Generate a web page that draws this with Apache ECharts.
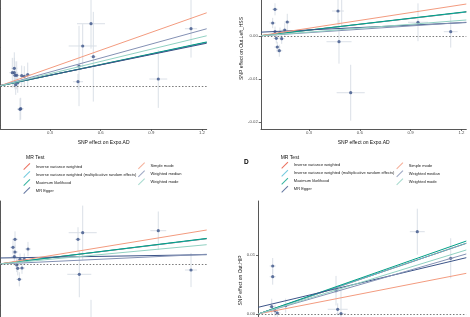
<!DOCTYPE html>
<html>
<head>
<meta charset="utf-8">
<script src="https://cdn.jsdelivr.net/npm/echarts@6/dist/echarts.min.js"></script>
<style>html,body{margin:0;padding:0;background:#fff}#c{width:470px;height:317px}</style>
</head>
<body>
<div id="c"></div>
<script>
// ---- method names (legend order) ----
const methods = ['Inverse variance weighted', 'Inverse variance weighted (multiplicative random effects)', 'Maximum likelihood', 'MR Egger', 'Simple mode', 'Weighted median', 'Weighted mode'];

// ---- Panel A (Out: top-left) ----
const aX   = [0.0886, 0.0768, 0.0886, 0.0928, 0.1028, 0.0969, 0.1088, 0.1324, 0.1478, 0.1680, 0.1224, 0.1265, 0.4936, 0.4717, 0.4658, 0.5428, 0.5564, 0.9412, 1.1349];
const aY   = [0.00454, 0.00341, 0.00341, 0.00274, 0.00274, 0.00033, 0.00085, 0.00264, 0.00249, 0.00290, -0.00597, -0.00582, 0.01026, 0.00513, 0.00110, 0.01597, 0.00751, 0.00179, 0.01469];
const aXe  = [0.018, 0.018, 0.018, 0.018, 0.018, 0.018, 0.018, 0.018, 0.018, 0.018, 0.018, 0.018, 0.083, 0.018, 0.030, 0.083, 0.018, 0.053, 0.036];
const aYe  = [0.0041, 0.0038, 0.0038, 0.0036, 0.0036, 0.0026, 0.0026, 0.0026, 0.0026, 0.0031, 0.0028, 0.0028, 0.0056, 0.0103, 0.0020, 0.0064, 0.0115, 0.0074, 0.0074];
const aSlope = [0.0091, 0.0091, 0.0092, 0.00885, 0.01529, 0.01195, 0.01049];
const aIntercept = [0, 0, 0, 0.0001, 0, 0, 0];

// ---- Panel B (Out.Left_HSS) ----
const bX   = [0.0992, 0.0856, 0.0992, 0.1287, 0.1069, 0.1387, 0.1128, 0.1246, 0.1565, 0.1718, 0.4713, 0.4772, 0.5463, 0.9438, 1.1370, 0.4930];
const bY   = [0.00621, 0.00302, 0.00100, 0.00077, -0.00053, -0.00063, -0.00256, -0.00342, 0.00140, 0.00326, 0.00581, -0.00133, -0.01319, 0.00319, 0.00100, 0.01020];
const bXe  = [0.018, 0.018, 0.018, 0.018, 0.018, 0.018, 0.018, 0.018, 0.018, 0.018, 0.035, 0.074, 0.083, 0.059, 0.041, 0.018];
const bYe  = [0.0014, 0.0012, 0.0012, 0.0012, 0.0012, 0.0012, 0.0012, 0.0014, 0.0016, 0.0019, 0.0033, 0.0051, 0.0065, 0.0044, 0.0037, 0.0081];
const bSlope = [0.00454, 0.00454, 0.0046, 0.00185, 0.00605, 0.0026, 0.00303];
const bIntercept = [0, 0, 0, 0.00086, 0, 0, 0];

// ---- Panel C (bottom-left) ----
const cX   = [0.0928, 0.0809, 0.0928, 0.0886, 0.1224, 0.1478, 0.1697, 0.1028, 0.1088, 0.1342, 0.1182, 0.4658, 0.4936, 0.4735, 0.9412, 1.1349, 0.5428];
const cY   = [0.00592, 0.00400, 0.00288, 0.00175, 0.00113, 0.00113, 0.00360, -0.00024, -0.00103, -0.00096, -0.00367, 0.00592, 0.00751, -0.00247, 0.00799, -0.00144, -0.0182];
const cXe  = [0.018, 0.018, 0.018, 0.018, 0.018, 0.018, 0.018, 0.018, 0.018, 0.018, 0.018, 0.018, 0.083, 0.071, 0.047, 0.036, 0.030];
const cYe  = [0.0019, 0.0017, 0.0017, 0.0017, 0.0014, 0.0014, 0.0017, 0.0017, 0.0017, 0.0014, 0.0017, 0.0029, 0.0065, 0.0055, 0.0046, 0.0041, 0.0096];
const cSlope = [0.00494, 0.00494, 0.0050, 0.00065, 0.00664, 0.0019, 0.00377];
const cIntercept = [0, 0, 0, 0.00144, 0, 0, 0];

// ---- Panel D (Out.HIP) ----
const dX   = [0.0856, 0.0856, 0.0797, 0.0992, 0.1128, 0.1624, 0.4595, 0.4695, 0.4890, 0.9397, 1.1370];
const dY   = [0.00814, 0.00632, 0.00124, 0.00056, 0.00017, 0.00141, 0.00395, 0.00080, 0.00005, 0.01395, 0.00944];
const dXe  = [0.018, 0.018, 0.018, 0.018, 0.018, 0.018, 0.030, 0.059, 0.030, 0.044, 0.018];
const dYe  = [0.00135, 0.00135, 0.00135, 0.0010, 0.0010, 0.0012, 0.0025, 0.0010, 0.0042, 0.0039, 0.0034];
const dSlope = [0.00975, 0.00975, 0.01006, 0.00684, 0.00561, 0.00828, 0.00883];
const dIntercept = [0, 0, 0, 0.00114, 0, 0, 0];

// ---- tick values ----
const xTicks = [0.3, 0.6, 0.9, 1.2];
const aYTicks = [-0.01, 0, 0.01, 0.02];
const bYTicks = [-0.02, -0.01, 0, 0.01];
const cYTicks = [-0.01, 0, 0.01];
const dYTicks = [0, 0.01];

// ---- styling ----
const methodColors = ['#E64B35', '#4DBBD5', '#00A087', '#3C5488', '#F39B7F', '#8491B4', '#91D1C2'];
const FONT = '"Liberation Sans", Arial, Helvetica, sans-serif';

const panels = [
  { x: aX, y: aY, xe: aXe, ye: aYe, slope: aSlope, icpt: aIntercept, yTicks: aYTicks,
    grid: { left: 0.5, top: -32, width: 206.2, height: 161 }, xr: [0.0069, 1.2278], yr: [-0.011026, 0.030256],
    xName: 'SNP effect on Expo.AD', yName: '' },
  { x: bX, y: bY, xe: bXe, ye: bYe, slope: bSlope, icpt: bIntercept, yTicks: bYTicks,
    grid: { left: 261, top: -32, width: 205.3, height: 161 }, xr: [0.01648, 1.22912], yr: [-0.021628, 0.015814],
    xName: 'SNP effect on Expo.AD', yName: 'SNP effect on Out.Left_HSS' },
  { x: cX, y: cY, xe: cXe, ye: cYe, slope: cSlope, icpt: cIntercept, yTicks: cYTicks,
    grid: { left: 0.5, top: 201, width: 206.2, height: 159 }, xr: [0.0069, 1.2278], yr: [-0.023022, 0.015108],
    xName: '', yName: '' },
  { x: dX, y: dY, xe: dXe, ye: dYe, slope: dSlope, icpt: dIntercept, yTicks: dYTicks,
    grid: { left: 258.3, top: 201, width: 208, height: 159 }, xr: [0.00053, 1.22912], yr: [-0.0077966, 0.019153],
    xName: '', yName: 'SNP effect on Out.HIP' }
];

const grids = [], xAxes = [], yAxes = [], series = [];
panels.forEach((p, i) => {
  grids.push(Object.assign({ containLabel: false, outerBoundsMode: 'none' }, p.grid));
  xAxes.push({
    type: 'value', gridIndex: i, min: p.xr[0], max: p.xr[1],
    splitLine: { show: false },
    axisLine: { show: true, onZero: false, lineStyle: { color: '#444', width: 0.9 } },
    axisTick: { show: true, length: 2, lineStyle: { color: '#444', width: 0.8 }, customValues: xTicks },
    axisLabel: { show: true, fontSize: 4.3, color: '#4D4D4D', margin: 2.2, fontFamily: FONT,
      customValues: xTicks, formatter: v => Number(v).toFixed(1) },
    name: p.xName, nameLocation: 'middle', nameGap: 6.8,
    nameTextStyle: { fontSize: 5, color: '#111', fontFamily: FONT }
  });
  yAxes.push({
    type: 'value', gridIndex: i, min: p.yr[0], max: p.yr[1],
    splitLine: { show: false },
    axisLine: { show: true, onZero: false, lineStyle: { color: '#444', width: 0.9 } },
    axisTick: { show: true, length: 2.3, lineStyle: { color: '#444', width: 0.8 }, customValues: p.yTicks },
    axisLabel: { show: true, fontSize: 4.3, color: '#4D4D4D', margin: 3.2, fontFamily: FONT,
      customValues: p.yTicks, formatter: v => { const s = Number(v).toFixed(2); return s === '-0.00' ? '0.00' : s; } },
    name: p.yName, nameLocation: 'middle', nameGap: 14.2,
    nameTextStyle: { fontSize: 5, color: '#111', fontFamily: FONT }
  });

  const pts = p.x.map((xv, k) => [xv, p.y[k], p.xe[k], p.ye[k]]);
  series.push({
    type: 'custom', name: 'err' + i, xAxisIndex: i, yAxisIndex: i, clip: true, z: 1, silent: true,
    data: pts,
    renderItem: (params, api) => {
      const x = api.value(0), y = api.value(1), xe = api.value(2), ye = api.value(3);
      const h1 = api.coord([x - xe, y]), h2 = api.coord([x + xe, y]);
      const v1 = api.coord([x, y - ye]), v2 = api.coord([x, y + ye]);
      const st = { stroke: '#D6DCE4', lineWidth: 0.9 };
      return { type: 'group', children: [
        { type: 'line', shape: { x1: h1[0], y1: h1[1], x2: h2[0], y2: h2[1] }, style: st },
        { type: 'line', shape: { x1: v1[0], y1: v1[1], x2: v2[0], y2: v2[1] }, style: st }
      ] };
    },
    markLine: {
      silent: true, symbol: ['none', 'none'], label: { show: false },
      lineStyle: { type: [1.5, 1.8], color: '#555', width: 0.8 },
      data: [{ yAxis: 0 }]
    }
  });
  series.push({
    type: 'scatter', name: 'pts' + i, xAxisIndex: i, yAxisIndex: i, z: 2, silent: true,
    symbol: 'circle', symbolSize: 3.2,
    itemStyle: { color: '#3C5488' },
    data: p.x.map((xv, k) => [xv, p.y[k]])
  });
  methods.forEach((m, j) => {
    const a = p.icpt[j], b = p.slope[j];
    series.push({
      type: 'line', name: m, xAxisIndex: i, yAxisIndex: i, z: 3, silent: true,
      showSymbol: false, symbol: 'none', clip: true,
      lineStyle: { color: methodColors[j], width: 1 },
      itemStyle: { color: methodColors[j] },
      data: [[p.xr[0], a + b * p.xr[0]], [p.xr[1], a + b * p.xr[1]]]
    });
  });
});

const ICON = 'path://M0,9 L9,0 L10,1 L1,10 Z';
function mkLegend(names, left, top) {
  return {
    data: names, orient: 'vertical', left: left, top: top, padding: 0,
    itemWidth: 8, itemHeight: 7, itemGap: 1, icon: ICON, selectedMode: false,
    itemStyle: { borderWidth: 0, opacity: 0.8 },
    textStyle: { fontSize: 4, color: '#1A1A1A', fontFamily: FONT }
  };
}

const option = {
  animation: false,
  backgroundColor: '#ffffff',
  title: [
    { text: 'MR Test', left: 26, top: 154.8, padding: 0, textStyle: { fontSize: 5, fontWeight: 'normal', color: '#111', fontFamily: FONT } },
    { text: 'MR Test', left: 280.7, top: 155, padding: 0, textStyle: { fontSize: 5, fontWeight: 'normal', color: '#111', fontFamily: FONT } },
    { text: 'D', left: 244, top: 158.3, padding: 0, textStyle: { fontSize: 6.5, fontWeight: 'bold', color: '#000', fontFamily: FONT } }
  ],
  legend: [
    mkLegend(methods.slice(0, 4), 23.3, 163),
    mkLegend(methods.slice(4), 138, 162.3),
    mkLegend(methods.slice(0, 4), 281.3, 161.7),
    mkLegend(methods.slice(4), 396.3, 162.3)
  ],
  grid: grids, xAxis: xAxes, yAxis: yAxes, series: series
};

const chart = echarts.init(document.getElementById('c'), null, { renderer: 'canvas' });
chart.setOption(option);
</script>
</body>
</html>
